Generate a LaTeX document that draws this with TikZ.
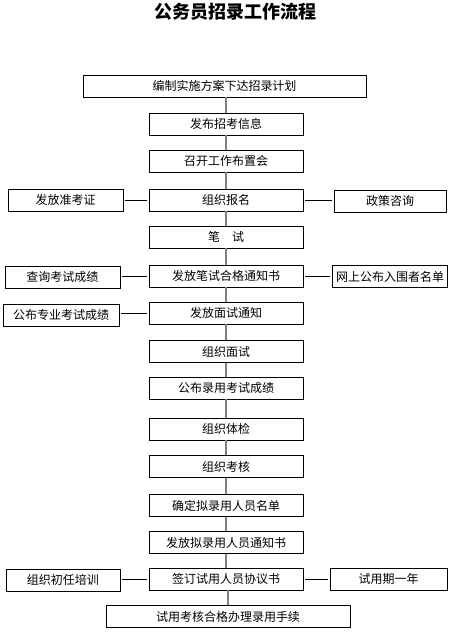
\documentclass[tikz,border=0pt]{standalone}
\usepackage{fontspec}
\newfontfamily\cjk{Noto Sans CJK SC}
\usepackage{tikz}
\usetikzlibrary{positioning}
\tikzset{
    box/.style={draw=black,line width=0.9pt,inner sep=0pt,minimum height=22pt,
        font=\cjk\fontsize{12}{14}\selectfont},
    mainbox/.style={box,minimum width=154pt},
    sidebox/.style={box,minimum width=115pt},
    vlink/.style={draw=black!50,line width=1.3pt},
    hlink/.style={draw=black,line width=0.8pt,shorten <=2pt,shorten >=2pt}
}

\begin{document}
\begin{tikzpicture}[x=1pt,y=-1pt]
\useasboundingbox (0,0) rectangle (454,633);
% title
\node[font=\cjk\bfseries\fontsize{18}{20}\selectfont] (title) at (235,12) {公务员招录工作流程};
% main column
\node[box,minimum width=283pt] (m1) at (224.5,86) {编制实施方案下达招录计划};
\foreach \n/\y/\t in {2/124/发布招考信息,3/161/召开工作布置会,4/200/组织报名,
    5/237/笔\quad 试,6/276/发放笔试合格通知书,7/313/发放面试通知,8/351.5/组织面试,
    9/388/公布录用考试成绩,10/429/组织体检,11/466.5/组织考核,
    12/505.5/确定拟录用人员名单,13/542.5/发放拟录用人员通知书,14/579/签订试用人员协议书}
    {\node[mainbox] (m\n) at (226,\y) {\t};}
\node[box,minimum width=244pt] (m15) at (228,616.5) {试用考核合格办理录用手续};
% side boxes
\node[sidebox] (l4) at (65.5,200) {发放准考证};
\node[sidebox,minimum width=112pt] (r4) at (390,201) {政策咨询};
\node[sidebox] (l6) at (62.5,277) {查询考试成绩};
\node[sidebox] (r6) at (390,276.5) {网上公布入围者名单};
\node[sidebox,minimum width=116pt] (l7) at (61,315) {公布专业考试成绩};
\node[sidebox,minimum width=114pt] (l14) at (63,580) {组织初任培训};
\node[sidebox,minimum width=117pt] (r14) at (388.5,579) {试用期一年};
% links
\foreach \i/\j in {1/2,2/3,3/4,4/5,5/6,6/7,7/8,8/9,9/10,10/11,11/12,12/13,13/14}
    {\draw[vlink] (m\i.south -| m\j.north) -- (m\j.north);}
\draw[vlink] (m14.south -| m15.north) -- (m15.north);
\foreach \s/\m in {l4/m4,l6/m6,l7/m7,l14/m14}
    {\draw[hlink] (\s.east |- \m) -- (\m.west);}
\foreach \s/\m in {r4/m4,r6/m6,r14/m14}
    {\draw[hlink] (\m.east) -- (\s.west |- \m);}
\end{tikzpicture}
\end{document}
